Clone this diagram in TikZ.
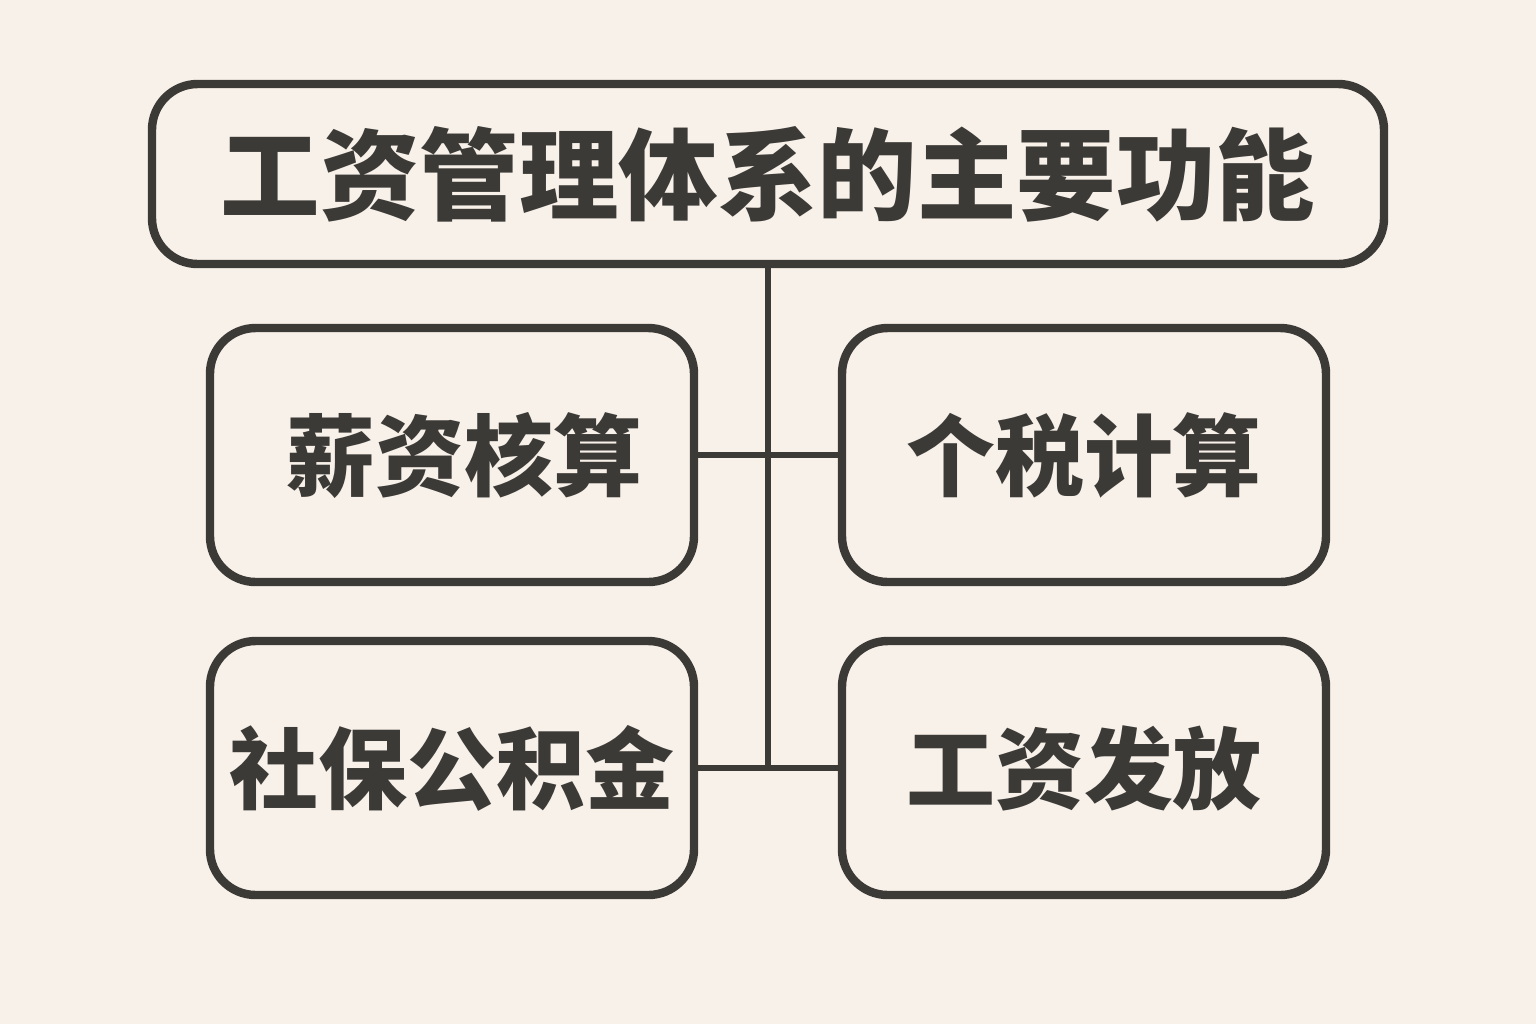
\documentclass[tikz,border=0pt]{standalone}
\usepackage{fontspec}
\newfontfamily\cjk{Noto Sans CJK SC}
\usetikzlibrary{positioning}
\definecolor{ink}{RGB}{60,58,55}
\definecolor{paper}{RGB}{248,241,233}

\begin{document}
\begin{tikzpicture}[
  card/.style={rectangle, rounded corners=13pt, draw=ink, line width=2.4pt, fill=paper,
    minimum width=4.84cm, minimum height=2.54cm, text=ink,
    font=\cjk\bfseries\fontsize{25.3}{30}\selectfont},
  headbox/.style={card, minimum width=12.32cm, minimum height=1.8cm,
    font=\cjk\bfseries\fontsize{28.3}{32}\selectfont},
  link/.style={ink, line width=1.8pt}
]
\fill[paper] (0,0) rectangle (15.36,-10.24);
\useasboundingbox (0,0) rectangle (15.36,-10.24);

\node[headbox] (head) at (7.68,-1.74) {工资管理体系的主要功能};
\node[card] (salary) at (4.52,-4.55) {\hspace{0.25cm}薪资核算};
\node[card] (tax) at (10.84,-4.55) {个税计算};
\node[card] (fund) at (4.52,-7.68) {社保公积金};
\node[card] (pay) at (10.84,-7.68) {工资发放};

\coordinate (spine) at (7.68,-7.68);
\draw[link] (head.south) -- (spine);
\draw[link] (salary) -- (tax);
\draw[link] (fund) -- (pay);
\end{tikzpicture}
\end{document}
